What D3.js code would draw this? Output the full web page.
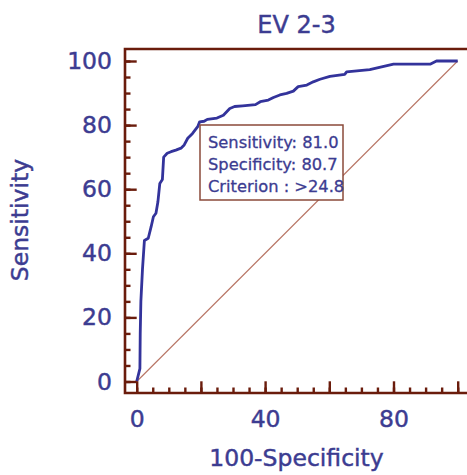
<!DOCTYPE html>
<html>
<head>
<meta charset="utf-8">
<script src="https://cdn.jsdelivr.net/npm/d3@7"></script>
<style>
  body { margin: 0; background: #fff; }
  svg { display: block; }
  text { font-family: "DejaVu Sans", sans-serif; fill: #3c3c91; stroke: #3c3c91; stroke-width: 0.45px; }
</style>
</head>
<body>
<svg id="chart" width="467" height="475"></svg>
<script>
// ROC curve: 100-Specificity (x) vs Sensitivity (y)
var fpr  = [0, 1, 1.1, 1.3, 1.8, 2.4, 3.6, 4.5, 5.2, 6, 6.6, 7.2, 8, 8.4, 9.5, 10.7, 12.2, 13.8, 14.8, 15.9, 17.4, 19, 19.6, 21, 22, 25, 27, 29, 30.5, 33, 37, 38.5, 41, 42.6, 44.6, 46.7, 48.8, 50.3, 53, 55, 57.1, 60.2, 64.8, 65.4, 72.6, 80, 91.4, 93.4, 100];
var sens = [0, 4, 15, 25, 35, 44, 44.7, 48.3, 51.4, 52.5, 56, 61.8, 63, 70, 71.2, 71.7, 72.2, 72.8, 73.8, 75.9, 77.4, 79.5, 81, 81.2, 81.8, 82.2, 83.1, 85.2, 85.8, 86, 86.4, 87.3, 87.8, 88.6, 89.4, 89.9, 90.6, 92, 92.5, 93.5, 94.3, 95.2, 95.8, 96.6, 97.3, 99, 99, 100, 100];
var diagonal = [0, 100];
var majorTicks = [0, 20, 40, 60, 80, 100];
var minorTicks = d3.range(0, 101, 5);
var xLabels = [0, 40, 80];
var yLabels = [0, 20, 40, 60, 80, 100];
var infoLines = ["Sensitivity: 81.0", "Specificity: 80.7", "Criterion : >24.8"];

var frameCol = "#6a1c0c",
    curveCol = "#33339b",
    diagCol = "#b87565";

var svg = d3.select("#chart");

var x = d3.scaleLinear().domain([0, 100]).range([136.7, 457.7]);
var y = d3.scaleLinear().domain([0, 100]).range([381.5, 61]);

// frame edges (the plot frame sits a little outside the data range)
var fLeft = 125, fTop = 49, fBottom = 393, fRight = 470;

// diagonal reference line
svg.append("line")
    .attr("x1", x(diagonal[0])).attr("y1", y(diagonal[0]))
    .attr("x2", x(diagonal[1])).attr("y2", y(diagonal[1]))
    .attr("stroke", diagCol)
    .attr("stroke-width", 1.1);

// ROC curve
var line = d3.line()
    .x(function(d, i) { return x(fpr[i]); })
    .y(function(d, i) { return y(sens[i]); });

svg.append("path")
    .datum(fpr)
    .attr("d", line)
    .attr("fill", "none")
    .attr("stroke", curveCol)
    .attr("stroke-width", 2.8)
    .attr("stroke-linejoin", "round");

// info box
var box = svg.append("g");
box.append("rect")
    .attr("x", 200).attr("y", 125)
    .attr("width", 143).attr("height", 75)
    .attr("fill", "#fff")
    .attr("stroke", "#8a4a3a")
    .attr("stroke-width", 1.5);
box.selectAll("text")
    .data(infoLines)
  .enter().append("text")
    .attr("x", 208)
    .attr("y", function(d, i) { return 148 + i * 22; })
    .style("font-size", "16.3px")
    .style("stroke-width", "0.3px")
    .text(function(d) { return d; });

// frame
svg.append("path")
    .attr("d", "M" + fRight + "," + fTop + "H" + fLeft + "V" + fBottom + "H" + fRight)
    .attr("fill", "none")
    .attr("stroke", frameCol)
    .attr("stroke-width", 2.6);

// axes: ticks point inward from the frame
function styleAxis(g) {
  g.select(".domain").remove();
  g.selectAll(".tick line").attr("stroke", frameCol).attr("stroke-width", 2.4);
  g.selectAll(".tick text")
      .attr("fill", "#3c3c91")
      .style("font-family", "DejaVu Sans, sans-serif")
      .style("font-size", "23.5px");
}

svg.append("g")
    .attr("transform", "translate(" + fLeft + ",0)")
    .call(d3.axisLeft(y).tickValues(minorTicks).tickSizeInner(-5.5).tickSizeOuter(0).tickFormat(""))
    .call(styleAxis);
svg.append("g")
    .attr("transform", "translate(" + fLeft + ",0)")
    .call(d3.axisLeft(y).tickValues(majorTicks).tickSizeInner(-11.7).tickSizeOuter(0).tickPadding(13)
      .tickFormat(function(d) { return yLabels.indexOf(d) >= 0 ? d : ""; }))
    .call(styleAxis);

svg.append("g")
    .attr("transform", "translate(0," + fBottom + ")")
    .call(d3.axisBottom(x).tickValues(minorTicks).tickSizeInner(-5.5).tickSizeOuter(0).tickFormat(""))
    .call(styleAxis);
svg.append("g")
    .attr("transform", "translate(0," + fBottom + ")")
    .call(d3.axisBottom(x).tickValues(majorTicks).tickSizeInner(-11.7).tickSizeOuter(0).tickPadding(17)
      .tickFormat(function(d) { return xLabels.indexOf(d) >= 0 ? d : ""; }))
    .call(styleAxis);

// titles
svg.append("text")
    .attr("x", 296.5).attr("y", 33)
    .attr("text-anchor", "middle")
    .style("font-size", "24px")
    .text("EV 2-3");

svg.append("text")
    .attr("x", 296.5).attr("y", 466)
    .attr("text-anchor", "middle")
    .style("font-size", "23.5px")
    .text("100-Specificity");

svg.append("text")
    .attr("transform", "translate(28,220) rotate(-90)")
    .attr("text-anchor", "middle")
    .style("font-size", "23.5px")
    .text("Sensitivity");
</script>
</body>
</html>
